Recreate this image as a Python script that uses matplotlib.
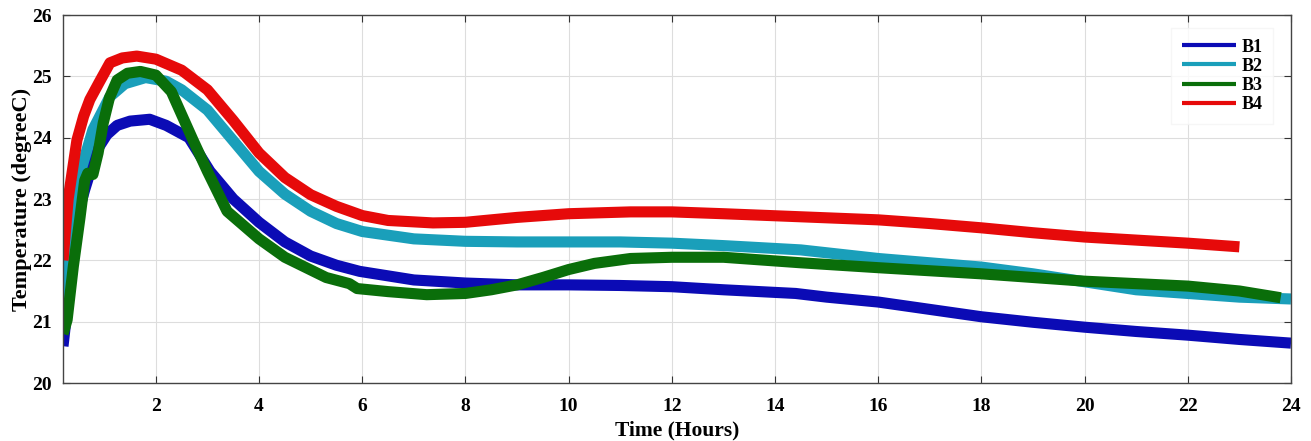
import matplotlib
matplotlib.use("Agg")
import matplotlib.pyplot as plt

# Time (hours) and temperatures (degree C)
t_b1 = [0.2, 0.24, 0.35, 0.47, 0.62, 0.86, 1.05, 1.25, 1.5, 1.88, 2.2, 2.64, 3.05, 3.5, 4.0, 4.5, 5.0, 5.5, 5.95, 7.0, 8.0, 9.0, 10.0, 11.0, 12.0, 13.0, 14.4, 15.0, 16.0, 17.0, 18.0, 19.0, 20.0, 21.0, 22.0, 23.0, 24.0]
b1 = [20.6, 20.9, 21.9, 22.7, 23.15, 23.8, 24.05, 24.2, 24.27, 24.3, 24.2, 24.0, 23.45, 23.0, 22.62, 22.3, 22.07, 21.92, 21.82, 21.68, 21.63, 21.6, 21.6, 21.59, 21.57, 21.52, 21.46, 21.4, 21.32, 21.2, 21.08, 20.99, 20.91, 20.84, 20.78, 20.71, 20.65]

t_b2 = [0.2, 0.35, 0.53, 0.78, 1.11, 1.4, 1.8, 2.2, 2.5, 3.0, 3.5, 4.0, 4.5, 5.0, 5.5, 6.0, 7.0, 8.0, 9.0, 10.0, 11.0, 12.0, 13.0, 14.5, 16.0, 17.0, 18.0, 19.0, 20.0, 21.0, 22.0, 23.0, 24.0]
b2 = [21.3, 22.5, 23.42, 24.13, 24.67, 24.88, 24.98, 24.92, 24.78, 24.45, 23.95, 23.45, 23.08, 22.8, 22.6, 22.47, 22.35, 22.31, 22.3, 22.3, 22.3, 22.28, 22.24, 22.17, 22.03, 21.96, 21.89, 21.78, 21.65, 21.52, 21.46, 21.4, 21.37]

t_b3 = [0.2, 0.28, 0.4, 0.53, 0.62, 0.68, 0.78, 0.88, 0.98, 1.1, 1.25, 1.45, 1.7, 2.0, 2.3, 2.72, 3.0, 3.38, 4.0, 4.5, 5.3, 5.75, 5.9, 6.5, 7.25, 8.0, 8.5, 9.0, 9.5, 10.0, 10.5, 11.2, 12.0, 13.0, 14.5, 16.0, 17.0, 18.0, 19.0, 20.0, 21.0, 22.0, 23.0, 23.8]
b3 = [20.8, 21.03, 21.9, 22.7, 23.3, 23.42, 23.4, 23.75, 24.24, 24.65, 24.94, 25.05, 25.08, 25.02, 24.75, 23.96, 23.45, 22.8, 22.35, 22.05, 21.72, 21.62, 21.54, 21.49, 21.44, 21.46, 21.52, 21.6, 21.72, 21.85, 21.95, 22.03, 22.05, 22.05, 21.96, 21.88, 21.83, 21.78, 21.72, 21.66, 21.62, 21.58, 21.5, 21.39]

t_b4 = [0.2, 0.3, 0.47, 0.6, 0.72, 0.9, 1.11, 1.35, 1.63, 2.0, 2.5, 3.0, 3.5, 4.0, 4.5, 5.0, 5.5, 6.0, 6.5, 7.37, 8.0, 9.0, 10.0, 11.2, 12.0, 13.0, 14.5, 16.0, 17.0, 18.0, 19.0, 20.0, 21.0, 22.0, 23.0]
b4 = [22.0, 23.0, 23.96, 24.35, 24.62, 24.9, 25.22, 25.3, 25.33, 25.28, 25.1, 24.78, 24.28, 23.75, 23.35, 23.07, 22.88, 22.73, 22.65, 22.61, 22.62, 22.7, 22.76, 22.79, 22.79, 22.76, 22.71, 22.66, 22.6, 22.53, 22.45, 22.38, 22.33, 22.28, 22.22]

labels = ["B1", "B2", "B3", "B4"]
colors = ["#0b0bb5", "#1a9fba", "#0a6e0a", "#e60a0a"]

plt.rcParams['font.family'] = ['Liberation Serif', 'DejaVu Serif']
plt.rcParams['font.weight'] = 'bold'

fig = plt.figure(figsize=(13.11, 4.41), dpi=100)
ax = fig.add_axes([63/1311, 1 - 383/441, (1291-63)/1311, (383-15)/441])

for t, y, lab, c in zip([t_b1, t_b2, t_b3, t_b4], [b1, b2, b3, b4], labels, colors):
    ax.plot(t, y, color=c, lw=8, label=lab, solid_capstyle='butt', solid_joinstyle='round')

ax.set_xlim(0.2, 24)
ax.set_ylim(20, 26)
ax.set_xticks([2, 4, 6, 8, 10, 12, 14, 16, 18, 20, 22, 24])
ax.set_yticks([20, 21, 22, 23, 24, 25, 26])
ax.grid(True, color='#dddddd', lw=0.8)
ax.set_axisbelow(True)
ax.tick_params(direction='in', top=True, right=True, length=5, labelsize=14, color='#333333')
ax.tick_params(axis='x', pad=11)
ax.tick_params(axis='y', pad=8)
for lab in ax.get_xticklabels() + ax.get_yticklabels():
    lab.set_fontweight('bold')
for s in ax.spines.values():
    s.set_color('#444444')
    s.set_linewidth(1.0)

ax.set_xlabel("Time (Hours)", fontsize=15.5, fontweight='bold', labelpad=4)
ax.set_ylabel("Temperature (degreeC)", fontsize=16, fontweight='bold', labelpad=0)

leg = ax.legend(loc='upper right', bbox_to_anchor=(0.993, 0.99), frameon=True,
                handlelength=3.0, handletextpad=0.3, labelspacing=0.12, borderpad=0.6,
                fancybox=False, prop={'weight': 'bold', 'size': 13})
leg.get_frame().set_edgecolor('#f4f4f4')
for line in leg.get_lines():
    line.set_linewidth(3)

fig.savefig("out.png", dpi=100)
